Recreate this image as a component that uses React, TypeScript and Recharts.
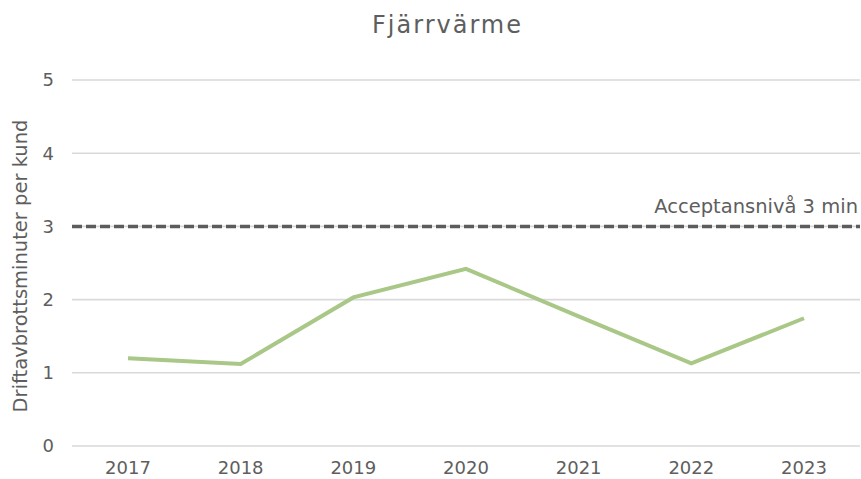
import React from "react";
import { LineChart, Line, XAxis, YAxis, CartesianGrid, ReferenceLine, Label } from "recharts";

const years = ["2017", "2018", "2019", "2020", "2021", "2022", "2023"];
const minutes = [1.2, 1.12, 2.03, 2.42, 1.77, 1.13, 1.745];
const yTicks = [0, 1, 2, 3, 4, 5];
const acceptance = 3;
const title = "Fjärrvärme";
const yLabel = "Driftavbrottsminuter per kund";
const refLabel = "Acceptansnivå 3 min";

const data = years.map((y, i) => ({ year: y, value: minutes[i] }));

const FONT = "'DejaVu Sans', sans-serif";
const GREY = "#5e5e5e";

const RefLabel = (props: any) => {
  const vb = props.viewBox || {};
  return (
    <text x={vb.x + vb.width - 2} y={vb.y - 13} textAnchor="end" fill={GREY} fontSize={19.5} fontFamily={FONT}>
      {refLabel}
    </text>
  );
};

const YLabel = (props: any) => {
  const vb = props.viewBox || {};
  const cx = 20;
  const cy = vb.y + vb.height / 2 + 3;
  return (
    <text
      x={cx}
      y={cy}
      transform={`rotate(-90 ${cx} ${cy})`}
      textAnchor="middle"
      dominantBaseline="central"
      fill={GREY}
      fontSize={19.5}
      fontFamily={FONT}
    >
      {yLabel}
    </text>
  );
};

export default function App() {
  return (
    <div style={{ position: "absolute", left: 0, top: 0, width: 861, height: 479, background: "#fff", fontFamily: FONT }}>
      <div style={{ position: "absolute", left: 0, top: 10, width: 895, textAlign: "center", fontSize: 24, color: GREY, letterSpacing: 2, lineHeight: "30px" }}>
        {title}
      </div>
      <LineChart width={861} height={479} data={data} margin={{ top: 80, right: 1, bottom: 0, left: 0 }}>
        <CartesianGrid vertical={false} stroke="#d9d9d9" strokeWidth={1.6} />
        <XAxis
          dataKey="year"
          axisLine={false}
          tickLine={false}
          tickSize={0}
          tickMargin={15}
          height={33}
          padding={{ left: 56, right: 56 }}
          tick={{ fill: GREY, fontSize: 18, fontFamily: FONT }}
          interval={0}
        />
        <YAxis
          domain={[0, 5]}
          ticks={yTicks}
          axisLine={false}
          tickLine={false}
          tickSize={0}
          tickMargin={18}
          width={72}
          tick={{ fill: GREY, fontSize: 18, fontFamily: FONT }}
        >
          <Label content={<YLabel />} />
        </YAxis>
        <ReferenceLine y={acceptance} stroke="#5c5c5c" strokeWidth={3.5} strokeDasharray="10 4">
          <Label content={<RefLabel />} />
        </ReferenceLine>
        <Line
          type="linear"
          dataKey="value"
          stroke="#a9c786"
          strokeWidth={4}
          dot={false}
          activeDot={false}
          isAnimationActive={false}
        />
      </LineChart>
    </div>
  );
}
